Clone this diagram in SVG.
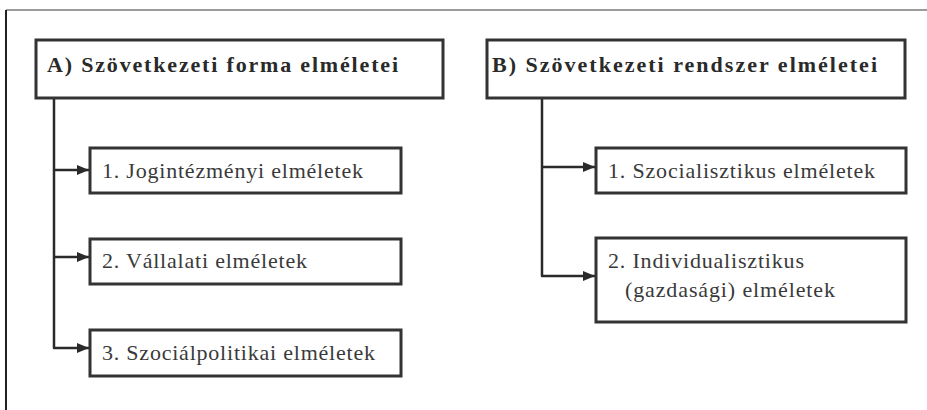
<svg xmlns="http://www.w3.org/2000/svg" width="927" height="410" viewBox="0 0 927 410">
  <style>
    .box { fill: #fff; stroke: #333; stroke-width: 3; }
    .title { font-family: "Liberation Serif", "Times New Roman", serif; font-size: 22px; font-weight: bold; fill: #2a2a2a; }
    .label { font-family: "Liberation Serif", "Times New Roman", serif; font-size: 22px; fill: #3a3a3a; }
    .conn { fill: none; stroke: #2a2a2a; stroke-width: 2.5; stroke-linejoin: round; }
  </style>
  <defs>
    <marker id="arrow" viewBox="0 0 12 10" refX="12" refY="5" markerWidth="12" markerHeight="10" markerUnits="userSpaceOnUse" orient="auto">
      <path d="M0,0 L12,5 L0,10 Z" fill="#2a2a2a"/>
    </marker>
  </defs>

  <rect width="927" height="410" fill="#fff"/>

  <!-- page frame: top rule and left rule -->
  <g id="frame">
    <line x1="6" y1="10" x2="927" y2="10" stroke="#7a7a7a" stroke-width="1.5"/>
    <line x1="6" y1="10" x2="6" y2="410" stroke="#222" stroke-width="2"/>
  </g>

  <!-- connectors: trunk lines with branches into each sub-box -->
  <g id="connectors">
    <path class="conn" d="M54,98 V348 H89" marker-end="url(#arrow)"/>
    <path class="conn" d="M54,170 H89" marker-end="url(#arrow)"/>
    <path class="conn" d="M54,257 H89" marker-end="url(#arrow)"/>
    <path class="conn" d="M542,98 V276 H595" marker-end="url(#arrow)"/>
    <path class="conn" d="M542,167 H595" marker-end="url(#arrow)"/>
  </g>

  <g id="nodeA">
    <rect class="box" x="36" y="40" width="407" height="58"/>
    <text class="title" x="47" y="72" textLength="351">A) Szövetkezeti forma elméletei</text>
  </g>
  <g id="nodeA1">
    <rect class="box" x="90" y="148" width="311" height="45"/>
    <text class="label" x="102" y="178" textLength="261">1. Jogintézményi elméletek</text>
  </g>
  <g id="nodeA2">
    <rect class="box" x="90" y="239" width="311" height="45"/>
    <text class="label" x="102" y="268" textLength="205">2. Vállalati elméletek</text>
  </g>
  <g id="nodeA3">
    <rect class="box" x="90" y="330" width="311" height="46"/>
    <text class="label" x="102" y="360" textLength="273">3. Szociálpolitikai elméletek</text>
  </g>

  <g id="nodeB">
    <rect class="box" x="487" y="40" width="418" height="58"/>
    <text class="title" x="492" y="72" textLength="385">B) Szövetkezeti rendszer elméletei</text>
  </g>
  <g id="nodeB1">
    <rect class="box" x="596" y="148" width="310" height="45"/>
    <text class="label" x="608" y="178" textLength="267">1. Szocialisztikus elméletek</text>
  </g>
  <g id="nodeB2">
    <rect class="box" x="596" y="238" width="310" height="84"/>
    <text class="label" x="608" y="268" textLength="196">2. Individualisztikus</text>
    <text class="label" x="625" y="297" textLength="210">(gazdasági) elméletek</text>
  </g>
</svg>
